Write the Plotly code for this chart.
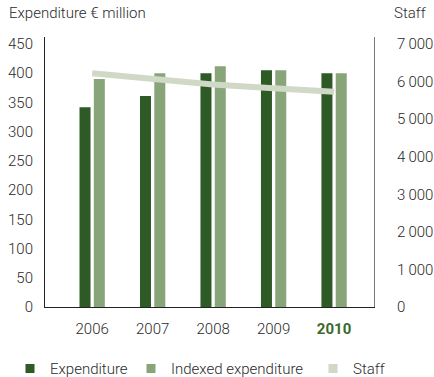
import plotly.graph_objects as go

years = ["2006", "2007", "2008", "2009", "2010"]
year_labels = ["2006", "2007", "2008", "2009",
               "<b><span style='color:#3b6b2c'>2010</span></b>"]
expenditure = [342, 361, 400, 405, 400]
indexed_expenditure = [390, 400, 412, 405, 400]
staff = [6220, 6070, 5920, 5820, 5730]

left_ticks = [0, 50, 100, 150, 200, 250, 300, 350, 400, 450]
right_ticks = [0, 1000, 2000, 3000, 4000, 5000, 6000, 7000]
right_tick_labels = ["0", "1\u2009000", "2\u2009000", "3\u2009000", "4\u2009000",
                     "5\u2009000", "6\u2009000", "7\u2009000"]
legend_names = ["Expenditure", "Indexed expenditure", "Staff"]

C_EXP = "#2d5a25"
C_IDX = "#88a579"
C_STAFF = "#cfd9c6"
TXT = "#2a2a2a"
FONT = "Roboto"
FS = 15
W = 434

fig = go.Figure()
fig.add_trace(go.Bar(x=years, y=expenditure, name="Expenditure",
                     marker=dict(color=C_EXP, line=dict(width=0)),
                     showlegend=False, yaxis="y"))
fig.add_trace(go.Bar(x=years, y=indexed_expenditure, name="Indexed expenditure",
                     marker=dict(color=C_IDX, line=dict(width=0)),
                     showlegend=False, yaxis="y"))
fig.add_trace(go.Scatter(x=years, y=staff, name="Staff", mode="lines",
                         line=dict(color=C_STAFF, width=6),
                         showlegend=False, yaxis="y2"))

# legend entries (square swatches), one legend per entry for exact placement
legend_ids = ["legend", "legend2", "legend3"]
legend_x = [10, 131, 313]
for nm, col, lid in zip(legend_names, [C_EXP, C_IDX, C_STAFF], legend_ids):
    fig.add_trace(go.Scatter(x=[None], y=[None], name=nm, mode="markers",
                             marker=dict(symbol="square", size=9, color=col),
                             showlegend=True, legend=lid, yaxis="y"))

legend_common = dict(orientation="h", xref="container", yref="container",
                     xanchor="left", y=0.022, yanchor="middle",
                     font=dict(size=FS, color=TXT, weight=300), itemwidth=30,
                     bgcolor="rgba(0,0,0,0)", borderwidth=0)

fig.update_layout(
    width=W, height=377,
    margin=dict(l=45, r=60, t=37, b=70, autoexpand=False),
    paper_bgcolor="white", plot_bgcolor="white",
    font=dict(family=FONT, size=FS, color=TXT, weight=300),
    barmode="group", bargap=0.527, bargroupgap=0.23,
    xaxis=dict(type="category", categoryorder="array", categoryarray=years,
               tickmode="array", tickvals=years, ticktext=year_labels,
               range=[-0.78, 4.66], showgrid=False, zeroline=False,
               showline=True, linecolor="#222222", linewidth=1,
               ticks="", ticklabelstandoff=8,
               tickfont=dict(size=FS, color=TXT, weight=300)),
    yaxis=dict(range=[0, 462], tickmode="array", tickvals=left_ticks,
               showgrid=False, zeroline=False, showline=True,
               linecolor="#222222", linewidth=1,
               ticks="", ticklabelstandoff=8,
               tickfont=dict(size=FS, color=TXT, weight=300)),
    yaxis2=dict(range=[0, 7187], overlaying="y", side="right",
                tickmode="array", tickvals=right_ticks, ticktext=right_tick_labels,
                showgrid=False, zeroline=False, showline=True,
                linecolor="#777777", linewidth=1,
                ticks="", ticklabelstandoff=19,
                tickfont=dict(size=FS, color=TXT, weight=300)),
    legend=dict(x=legend_x[0] / W, **legend_common),
    legend2=dict(x=legend_x[1] / W, **legend_common),
    legend3=dict(x=legend_x[2] / W, **legend_common),
    annotations=[
        dict(text="Expenditure € million", xref="paper", yref="paper",
             x=-38/329, y=1 + 24/270, xanchor="left", yanchor="middle",
             showarrow=False, font=dict(size=FS, color=TXT, weight=300)),
        dict(text="Staff", xref="paper", yref="paper",
             x=1 + 55/329, y=1 + 24/270, xanchor="right", yanchor="middle",
             showarrow=False, font=dict(size=FS, color=TXT, weight=300)),
    ],
)

fig.write_html("out.html")
